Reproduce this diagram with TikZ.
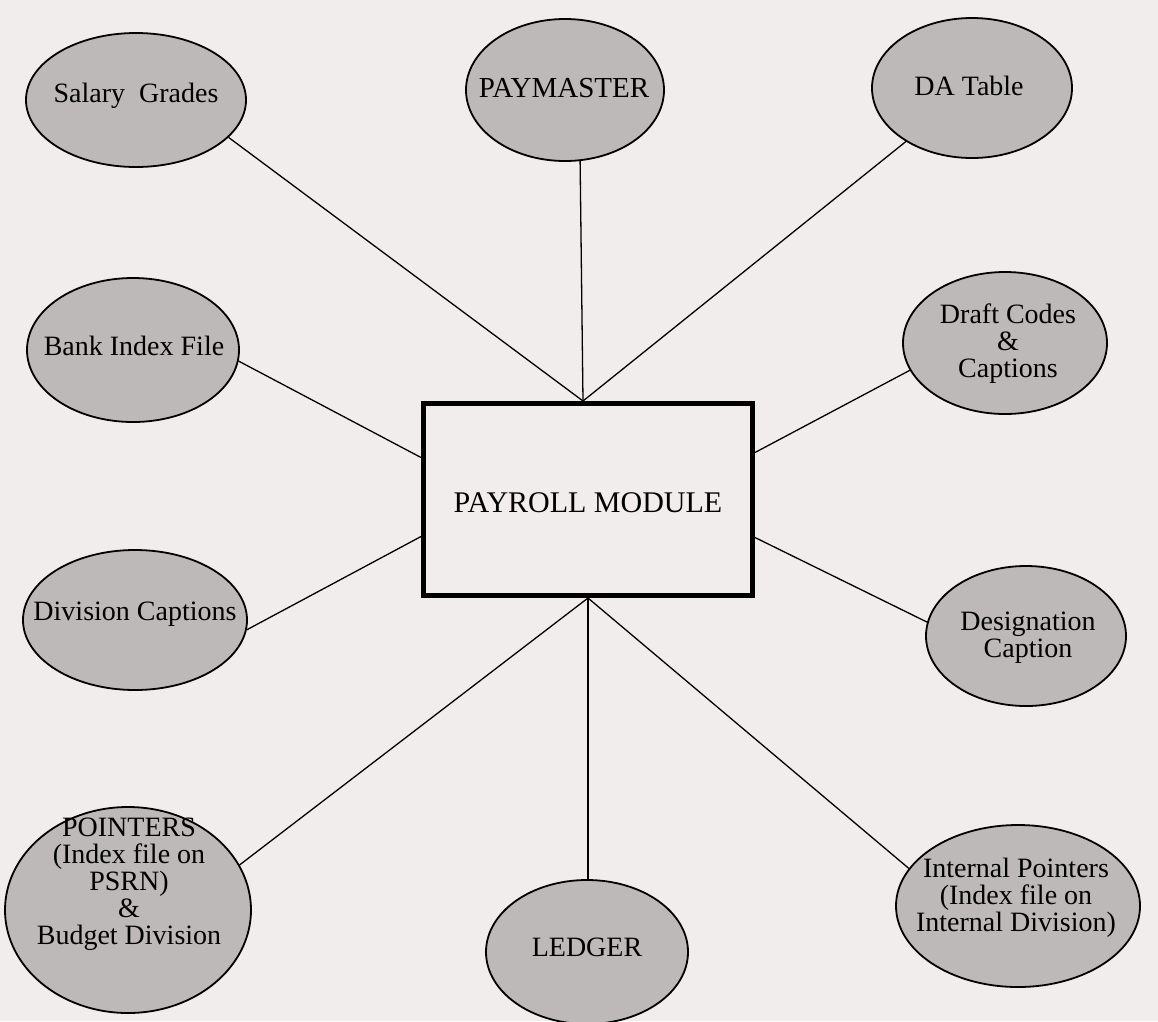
\documentclass[tikz,border=0pt]{standalone}
\usepackage{fontspec}
\setmainfont{Liberation Serif}
\usetikzlibrary{shapes.geometric}
\definecolor{paper}{HTML}{F2EDED}
\definecolor{stipple}{HTML}{BDB9B9}
\begin{document}
\begin{tikzpicture}[x=1pt,y=-1pt,
  store/.style={ellipse, draw=black, line width=1.8pt, fill=stipple, inner sep=0pt},
  caption/.style={align=center, inner sep=0pt, font=\fontsize{28}{27}\selectfont},
  link/.style={line width=1.3pt},
  module/.style={draw=black, line width=5pt, fill=paper, minimum width=329pt,
    minimum height=192pt, inner sep=0pt}]
\fill[paper] (0,0) rectangle (1158,1021);
\useasboundingbox (0,0) rectangle (1158,1021);
\clip (0,0) rectangle (1158,1021);

% central module
\node[module] (mod) at (588,499.5) {};
\node[caption, font=\fontsize{30}{30}\selectfont] (modT) at (588,503) {PAYROLL MODULE};

% data stores
\node[store, minimum width=220pt, minimum height=134pt] (sal) at (136,100) {};
\node[caption] (salT) at (136,96) {Salary\ \ Grades};
\node[store, minimum width=198pt, minimum height=142pt] (pay) at (565,90) {};
\node[caption, font=\fontsize{29}{28}\selectfont] (payT) at (564,88) {PAYMASTER};
\node[store, minimum width=200pt, minimum height=140pt] (da) at (972,88) {};
\node[caption] (daT) at (969,86) {DA Table};
\node[store, minimum width=212pt, minimum height=144pt] (bank) at (133,350) {};
\node[caption] (bankT) at (134,346) {Bank Index File};
\node[store, minimum width=204pt, minimum height=142pt] (draft) at (1005,343) {};
\node[caption] (draftT) at (1008,344) {Draft Codes\\\&\\Captions};
\node[store, minimum width=224pt, minimum height=140pt] (div) at (135,620) {};
\node[caption] (divT) at (135,614) {Division Captions};
\node[store, minimum width=200pt, minimum height=140pt] (desig) at (1026,636) {};
\node[caption] (desigT) at (1028,638) {Designation\\Caption};
\node[store, minimum width=246pt, minimum height=206pt] (ptr) at (128,910) {};
\node[caption] (ptrT) at (129,884) {POINTERS\\(Index file on\\PSRN)\\\&\\Budget Division};
\node[store, minimum width=202pt, minimum height=144pt] (ledger) at (587,952) {};
\node[caption] (ledgerT) at (587,947) {LEDGER};
\node[store, minimum width=244pt, minimum height=162pt] (intl) at (1018,906) {};
\node[caption] (intlT) at (1016,898) {Internal Pointers\\(Index file on\\Internal Division)};

% attachment points on the module
\coordinate (top) at ([xshift=-5pt]mod.north);
\coordinate (bottom) at (mod.south);
\coordinate (wBank) at ([yshift=42pt]mod.west);
\coordinate (wDiv) at ([yshift=-37pt]mod.west);
\coordinate (eDraft) at ([yshift=47pt]mod.east);
\coordinate (eDesig) at ([yshift=-38pt]mod.east);

% connectors
\draw[link] (sal.-22) -- (top);
\draw[link] (pay.-78) -- (top);
\draw[link] (da.-141) -- (top);
\draw[link] (bank.-6) -- (wBank);
\draw[link] (div.-5) -- (wDiv);
\draw[link] (draft.196) -- (eDraft);
\draw[link] (desig.172) -- (eDesig);
\draw[link] (ptr.22) -- (bottom);
\draw[link] (bottom) -- (bottom |- ledger.north);
\draw[link] (intl.161) -- (bottom);
\end{tikzpicture}
\end{document}
